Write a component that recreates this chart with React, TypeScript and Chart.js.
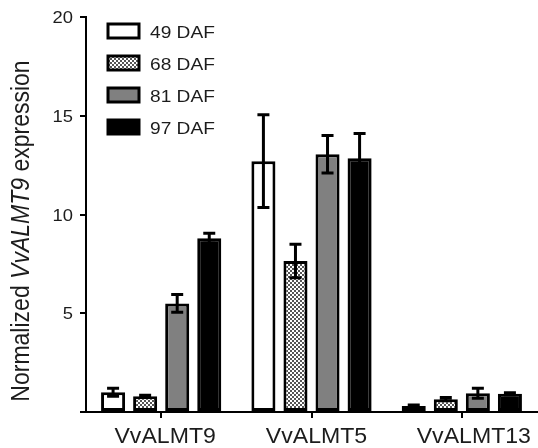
import React, { useEffect, useRef } from "react";
import { Chart, registerables } from "chart.js";

Chart.register(...registerables);

const categories = ["VvALMT9", "VvALMT5", "VvALMT13"];
const seriesNames = ["49 DAF", "68 DAF", "81 DAF", "97 DAF"];
const values49 = [1.0, 12.7, 0.3];
const values68 = [0.8, 7.65, 0.65];
const values81 = [5.5, 13.05, 0.95];
const values97 = [8.8, 12.85, 0.92];
const err49 = [0.2, 2.35, 0.05];
const err68 = [0.05, 0.85, 0.08];
const err81 = [0.45, 0.95, 0.25];
const err97 = [0.25, 1.25, 0.05];
const yTicks = [0, 5, 10, 15, 20];

const FONT = "'Liberation Sans', Arial, sans-serif";
const TEXT = "#1c1c1c";

function makeChecker(): CanvasPattern | string {
  const c = document.createElement("canvas");
  c.width = 4;
  c.height = 4;
  const g = c.getContext("2d");
  if (!g) return "#888";
  g.fillStyle = "#ffffff";
  g.fillRect(0, 0, 4, 4);
  g.fillStyle = "#555555";
  g.fillRect(0, 0, 2, 2);
  g.fillRect(2, 2, 2, 2);
  const p = g.createPattern(c, "repeat");
  return p || "#888";
}

function stretchedText(ctx: any, text: string, x: number, y: number, sx: number, align: string) {
  ctx.save();
  const w = ctx.measureText(text).width * sx;
  let left = x;
  if (align === "center") left = x - w / 2;
  else if (align === "right") left = x - w;
  ctx.translate(left, y);
  ctx.scale(sx, 1);
  ctx.textAlign = "left";
  ctx.fillText(text, 0, 0);
  ctx.restore();
}

export default function App() {
  const ref = useRef<HTMLCanvasElement | null>(null);

  useEffect(() => {
    document.body.style.margin = "0";
    const canvas = ref.current;
    if (!canvas) return;
    const checker = makeChecker();
    const fills: any[] = ["#ffffff", checker, "#808080", "#000000"];
    const vals = [values49, values68, values81, values97];
    const errs = [err49, err68, err81, err97];

    const errorBars = {
      id: "errorBars",
      afterDatasetsDraw(chart: any) {
        const ctx = chart.ctx;
        const y = chart.scales.y;
        ctx.save();
        ctx.strokeStyle = "#000";
        ctx.lineWidth = 3;
        chart.data.datasets.forEach((ds: any, di: number) => {
          const meta = chart.getDatasetMeta(di);
          meta.data.forEach((bar: any, i: number) => {
            const v = vals[di][i];
            const e = errs[di][i];
            const yt = y.getPixelForValue(v + e);
            const yb = y.getPixelForValue(v - e);
            const x = bar.x;
            const hw = 6;
            ctx.beginPath();
            ctx.moveTo(x, yt);
            ctx.lineTo(x, yb);
            ctx.moveTo(x - hw, yt);
            ctx.lineTo(x + hw, yt);
            ctx.moveTo(x - hw, yb);
            ctx.lineTo(x + hw, yb);
            ctx.stroke();
          });
        });
        ctx.restore();
      },
    };

    const labelShift = [4, 5, 12];

    const decorations = {
      id: "decorations",
      afterDraw(chart: any) {
        const ctx = chart.ctx;
        const xs = chart.scales.x;
        const ys = chart.scales.y;
        ctx.save();
        ctx.fillStyle = TEXT;
        // y tick labels
        ctx.font = `17px ${FONT}`;
        ctx.textBaseline = "middle";
        yTicks.forEach((v) => {
          if (v === 0) return;
          stretchedText(ctx, String(v), 73, ys.getPixelForValue(v) + 1.5, 1.08, "right");
        });
        // x tick labels
        ctx.font = `22px ${FONT}`;
        ctx.textBaseline = "alphabetic";
        categories.forEach((c, i) => {
          stretchedText(ctx, c, xs.getPixelForValue(i) + labelShift[i], 443, 1.05, "center");
        });
        // legend
        seriesNames.forEach((name, i) => {
          const cy = 31 + i * 32;
          ctx.fillStyle = fills[i];
          ctx.fillRect(108, cy - 7, 31, 14);
          ctx.strokeStyle = "#000";
          ctx.lineWidth = 3;
          ctx.strokeRect(108, cy - 7, 31, 14);
          ctx.fillStyle = TEXT;
          ctx.font = `16.5px ${FONT}`;
          ctx.textBaseline = "alphabetic";
          stretchedText(ctx, name, 150, 37.5 + i * 32, 1.16, "left");
        });
        // y title with italic gene name
        ctx.translate(22, 231);
        ctx.rotate(-Math.PI / 2);
        ctx.scale(1, 1.12);
        const parts = [
          { t: "Normalized ", f: `23px ${FONT}` },
          { t: "VvALMT9", f: `italic 23px ${FONT}` },
          { t: " expression", f: `23px ${FONT}` },
        ];
        let total = 0;
        parts.forEach((p) => {
          ctx.font = p.f;
          total += ctx.measureText(p.t).width;
        });
        let x = -total / 2;
        ctx.fillStyle = TEXT;
        ctx.textBaseline = "middle";
        ctx.textAlign = "left";
        parts.forEach((p) => {
          ctx.font = p.f;
          ctx.fillText(p.t, x, 0);
          x += ctx.measureText(p.t).width;
        });
        ctx.restore();
      },
    };

    const chart = new Chart(canvas, {
      type: "bar",
      data: {
        labels: categories,
        datasets: seriesNames.map((name, i) => ({
          label: name,
          data: vals[i],
          backgroundColor: fills[i],
          borderColor: "#000",
          borderWidth: 3,
          borderSkipped: false,
          categoryPercentage: 0.853,
          barPercentage: 0.75,
        })),
      },
      options: {
        animation: false,
        responsive: false,
        maintainAspectRatio: false,
        layout: { padding: { left: 0, right: 1, top: 17, bottom: 0 } },
        plugins: {
          legend: { display: false },
          tooltip: { enabled: false },
        },
        scales: {
          x: {
            offset: true,
            border: { display: true, color: "#000", width: 2 },
            grid: {
              display: true,
              offset: false,
              drawOnChartArea: false,
              drawTicks: true,
              tickLength: 6,
              color: "#000",
              lineWidth: 2,
            },
            ticks: { display: false },
            afterFit(scale: any) {
              scale.height = 36;
            },
          },
          y: {
            min: 0,
            max: 20,
            border: { display: true, color: "#000", width: 2 },
            grid: {
              display: true,
              drawOnChartArea: false,
              drawTicks: true,
              tickLength: 6,
              color: "#000",
              lineWidth: 2,
            },
            afterBuildTicks(scale: any) {
              scale.ticks = yTicks.map((v) => ({ value: v }));
            },
            ticks: { display: false },
            afterFit(scale: any) {
              scale.width = 86;
            },
          },
        },
      },
      plugins: [errorBars, decorations],
    });
    return () => chart.destroy();
  }, []);

  return (
    <div style={{ position: "absolute", left: 0, top: 0, width: 538, height: 448 }}>
      <canvas ref={ref} width={538} height={448} style={{ display: "block", width: 538, height: 448 }} />
    </div>
  );
}
